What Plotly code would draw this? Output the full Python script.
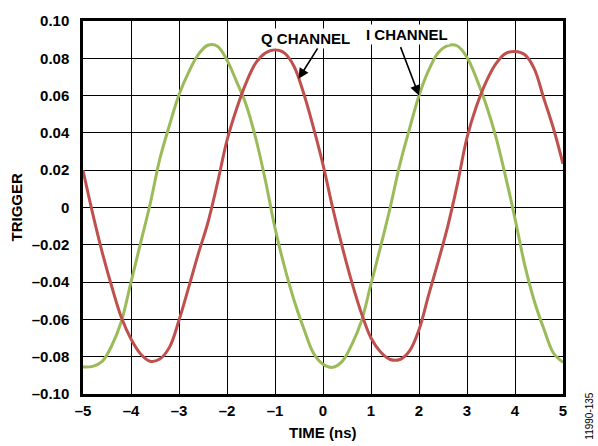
import plotly.graph_objects as go

# Time axis samples (ns)
time_ns = [-5.0, -4.8, -4.6, -4.4, -4.2, -4.0, -3.8, -3.6, -3.4, -3.2, -3.0, -2.8, -2.6, -2.4, -2.2, -2.0,
           -1.8, -1.6, -1.4, -1.2, -1.0, -0.8, -0.6, -0.4, -0.2, 0.0, 0.2, 0.4, 0.6, 0.8, 1.0, 1.2, 1.4,
           1.6, 1.8, 2.0, 2.2, 2.4, 2.6, 2.8, 3.0, 3.2, 3.4, 3.6, 3.8, 4.0, 4.2, 4.4, 4.6, 4.8, 5.0]

# I CHANNEL (green)
i_channel = [-0.0855, -0.0852, -0.0825, -0.0740, -0.0610, -0.0400, -0.0190, 0.0020, 0.0260, 0.0440, 0.0605,
             0.0725, 0.0820, 0.0870, 0.0865, 0.0790, 0.0675, 0.0550, 0.0370, 0.0145, -0.0110, -0.0320, -0.0500,
             -0.0650, -0.0780, -0.0840, -0.0857, -0.0825, -0.0735, -0.0610, -0.0410, -0.0210, 0.0000, 0.0230,
             0.0420, 0.0600, 0.0735, 0.0830, 0.0868, 0.0866, 0.0805, 0.0690, 0.0550, 0.0380, 0.0170, -0.0060,
             -0.0305, -0.0500, -0.0650, -0.0780, -0.0830]

# Q CHANNEL (red)
q_channel = [0.0200, -0.0030, -0.0240, -0.0425, -0.0590, -0.0705, -0.0785, -0.0824, -0.0812, -0.0750, -0.0605,
             -0.0430, -0.0250, -0.0083, 0.0130, 0.0360, 0.0530, 0.0670, 0.0775, 0.0828, 0.0846, 0.0828, 0.0755,
             0.0610, 0.0430, 0.0230, 0.0000, -0.0210, -0.0400, -0.0567, -0.0700, -0.0775, -0.0815, -0.0815,
             -0.0770, -0.0655, -0.0470, -0.0290, -0.0100, 0.0125, 0.0375, 0.0545, 0.0675, 0.0770, 0.0825,
             0.0837, 0.0820, 0.0745, 0.0585, 0.0425, 0.0234]

x_ticks = [-5, -4, -3, -2, -1, 0, 1, 2, 3, 4, 5]
x_tick_text = ["–5", "–4", "–3", "–2", "–1", "0", "1", "2", "3", "4", "5"]
y_ticks = [-0.10, -0.08, -0.06, -0.04, -0.02, 0, 0.02, 0.04, 0.06, 0.08, 0.10]
y_tick_text = ["–0.10", "–0.08", "–0.06", "–0.04", "–0.02", "0", "0.02", "0.04", "0.06", "0.08", "0.10"]

RED = "#C0504D"
GREEN = "#9BBB59"
FONT = "Liberation Sans, Arial, sans-serif"

fig = go.Figure()
fig.add_trace(go.Scatter(x=time_ns, y=i_channel, mode="lines", name="I CHANNEL",
                         line=dict(color=GREEN, width=3, shape="spline", smoothing=1.0)))
fig.add_trace(go.Scatter(x=time_ns, y=q_channel, mode="lines", name="Q CHANNEL",
                         line=dict(color=RED, width=3, shape="spline", smoothing=1.0)))

axis_common = dict(showgrid=True, gridcolor="#000000", gridwidth=1.3, zeroline=False,
                   showline=True, linecolor="#000000", linewidth=2.5, mirror=True,
                   ticks="", tickfont=dict(family=FONT, size=15, color="#000000", weight="bold"))

fig.update_xaxes(range=[-5, 5], tickvals=x_ticks, ticktext=x_tick_text, ticklabelstandoff=1, **axis_common)
fig.update_yaxes(range=[-0.1, 0.1], tickvals=y_ticks, ticktext=y_tick_text, ticklabelstandoff=8, **axis_common)

# plot area in page pixels: x 83..563, y 15..394
def px(x):
    return (x - 83) / 480

def py(y):
    return (394 - y) / 379

annots = [
    dict(text="TIME (ns)", xref="paper", yref="paper", x=0.5, y=py(433), showarrow=False,
         font=dict(family=FONT, size=15, color="#000", weight="bold"), xanchor="center", yanchor="middle"),
    dict(text="TRIGGER", xref="paper", yref="paper", x=px(16), y=0.5, showarrow=False, textangle=-90,
         font=dict(family=FONT, size=15, color="#000", weight="bold"), xanchor="center", yanchor="middle"),
    dict(text="11990-135", xref="paper", yref="paper", x=px(590), y=py(416), showarrow=False,
         textangle=-90, font=dict(family=FONT, size=10, color="#000"), xanchor="center", yanchor="middle"),
    dict(text="Q CHANNEL", xref="paper", yref="paper", x=px(305.5), y=py(32.5), showarrow=False,
         font=dict(family=FONT, size=15, color="#000", weight="bold"), bgcolor="#ffffff", borderpad=1,
         xanchor="center", yanchor="middle"),
    dict(text="I CHANNEL", xref="paper", yref="paper", x=px(406.5), y=py(28.5), showarrow=False,
         font=dict(family=FONT, size=15, color="#000", weight="bold"), bgcolor="#ffffff", borderpad=1,
         xanchor="center", yanchor="middle"),
    dict(text="", x=-0.51, y=0.069, xref="x", yref="y", showarrow=True, ax=20, ay=-32,
         arrowhead=2, arrowsize=1.3, arrowwidth=1.6, arrowcolor="#000"),
    dict(text="", x=2.0, y=0.06, xref="x", yref="y", showarrow=True, ax=-19, ay=-50,
         arrowhead=2, arrowsize=1.3, arrowwidth=1.6, arrowcolor="#000"),
]

fig.update_layout(
    width=598, height=446,
    margin=dict(l=83, r=35, t=15, b=52),
    plot_bgcolor="#ffffff", paper_bgcolor="#ffffff",
    showlegend=False,
    annotations=annots,
    font=dict(family=FONT),
)

# remove the default page margin so the figure sits at the window's top-left corner
fig.write_html(
    "out.html",
    config={"displayModeBar": False},
    post_script="document.body.style.margin='0';document.body.style.padding='0';"
                "document.body.style.overflow='hidden';",
)
